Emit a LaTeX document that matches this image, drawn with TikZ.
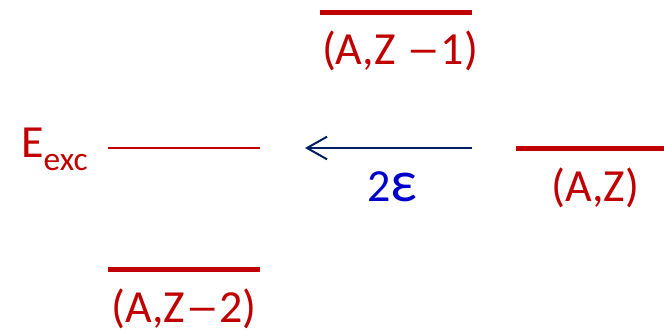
\documentclass[tikz,border=0pt]{standalone}
\usepackage{graphicx}
\usepackage{fontspec}
\setmainfont{Carlito}
\usetikzlibrary{arrows.meta,positioning,calc}
\definecolor{levelred}{RGB}{192,0,0}
\definecolor{arrownavy}{RGB}{0,32,96}
\definecolor{epsblue}{RGB}{0,0,204}
\newcommand{\wdash}{\scalebox{1.5}[1]{–}}

\begin{document}
\begin{tikzpicture}[
  x=0.75pt, y=-0.75pt,
  every node/.style={font=\fontsize{34.5}{40}\selectfont, text=levelred, inner sep=0pt},
  level/.style={levelred, line width=3.75pt},
  thinlevel/.style={levelred, line width=1.3pt},
  arr/.style={-{Straight Barb[length=15pt, width=17pt, line width=1.5pt]}, arrownavy, line width=1.5pt}
]
\useasboundingbox (0,0) rectangle (664,332);

% levels
\coordinate (azm1L) at (320,12);
\coordinate (azm1R) at (472,12);
\coordinate (excL) at (108,148);
\coordinate (excR) at (260,148);
\coordinate (azL) at (516,148);
\coordinate (azR) at (664,148);
\coordinate (azm2L) at (108,269);
\coordinate (azm2R) at (260,269);

\draw[level] (azm1L) -- (azm1R);
\draw[thinlevel] (excL) -- (excR);
\draw[level] (azL) -- (azR);
\draw[level] (azm2L) -- (azm2R);

\node[below=14pt of $(azm1L)!0.5!(azm1R)$, xshift=3pt] (azm1) {(A,Z \wdash1)};
\node[below=14.5pt of $(azL)!0.5!(azR)$, xshift=4pt] (az) {(A,Z)};
\node[below=14.5pt of $(azm2L)!0.5!(azm2R)$] (azm2) {(A,Z\wdash2)};
\node[anchor=base west] (exc) at (21,157) {E\raisebox{-10pt}{\fontsize{25}{29}\selectfont exc}};

% transition
\coordinate (arrFrom) at (472,148);
\coordinate (arrTo) at (305,148);
\draw[arr] (arrFrom) -- (arrTo);
\node[below=17.5pt of $(arrFrom)!0.5!(arrTo)$, xshift=3pt, text=epsblue] (eps) {2{\fontsize{44}{48}\selectfont ε}};
\end{tikzpicture}
\end{document}
